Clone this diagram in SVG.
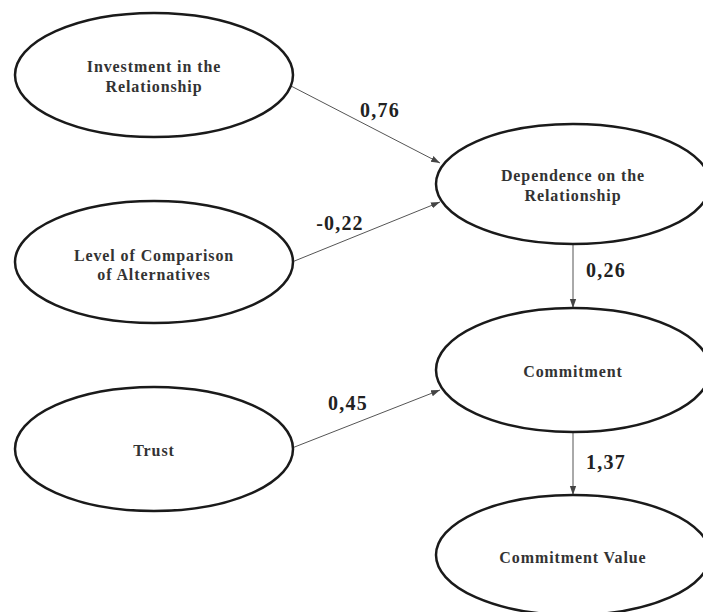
<svg xmlns="http://www.w3.org/2000/svg" width="703" height="612" viewBox="0 0 703 612">
<style>
.node ellipse{fill:#fff;stroke:#1a1a1a;stroke-width:2.5}
.node text{font-family:"Liberation Serif","Times New Roman",serif;font-weight:bold;font-size:16px;letter-spacing:0.9px;fill:#333;text-anchor:middle}
.edge{stroke:#555;stroke-width:1;fill:none;marker-end:url(#arr)}
.lbl{font-family:"Liberation Serif","Times New Roman",serif;font-weight:bold;font-size:20px;letter-spacing:1.2px;fill:#222;text-anchor:middle}
</style>
<defs>
<marker id="arr" viewBox="0 0 10 10" refX="10" refY="5" markerWidth="9" markerHeight="9" markerUnits="userSpaceOnUse" orient="auto">
<path d="M0,1.5 L10,5 L0,8.5 Z" fill="#444"/>
</marker>
</defs>
<rect width="703" height="612" fill="#fff"/>
<g id="connectors">
<line class="edge" x1="291" y1="86" x2="440" y2="163"/>
<line class="edge" x1="292" y1="262" x2="440" y2="202"/>
<line class="edge" x1="292" y1="448" x2="440" y2="390"/>
<line class="edge" x1="573" y1="244" x2="573" y2="308"/>
<line class="edge" x1="573" y1="432" x2="573" y2="495"/>
<text class="lbl" x="380" y="117">0,76</text>
<text class="lbl" x="340" y="230">-0,22</text>
<text class="lbl" x="606" y="277">0,26</text>
<text class="lbl" x="348" y="410">0,45</text>
<text class="lbl" x="606" y="469">1,37</text>
</g>
<g id="investment" class="node">
<ellipse cx="154" cy="75" rx="139" ry="62"/>
<text x="154" y="72">Investment in the</text>
<text x="154" y="92">Relationship</text>
</g>
<g id="comparison" class="node">
<ellipse cx="154" cy="262" rx="139" ry="61"/>
<text x="154" y="261">Level of Comparison</text>
<text x="154" y="280">of Alternatives</text>
</g>
<g id="trust" class="node">
<ellipse cx="154" cy="449" rx="139" ry="62"/>
<text x="154" y="456">Trust</text>
</g>
<g id="dependence" class="node">
<ellipse cx="573" cy="184" rx="137" ry="60"/>
<text x="573" y="181">Dependence on the</text>
<text x="573" y="201">Relationship</text>
</g>
<g id="commitment" class="node">
<ellipse cx="573" cy="370" rx="137" ry="62"/>
<text x="573" y="377">Commitment</text>
</g>
<g id="commitment-value" class="node">
<ellipse cx="573" cy="555" rx="137" ry="60"/>
<text x="573" y="563">Commitment Value</text>
</g>
</svg>
